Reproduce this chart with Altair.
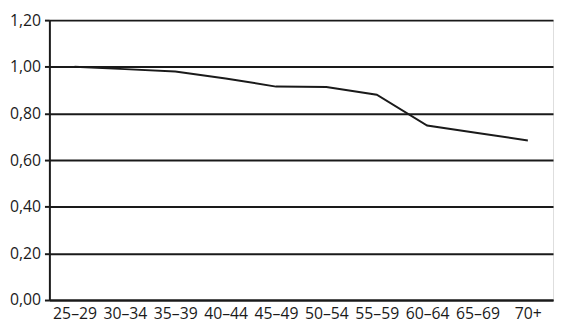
import altair as alt
import pandas as pd

ages = ["25–29", "30–34", "35–39", "40–44", "45–49", "50–54", "55–59", "60–64", "65–69", "70+"]
values = [1.00, 0.99, 0.98, 0.95, 0.915, 0.913, 0.88, 0.748, 0.716, 0.684]

df = pd.DataFrame({"age": ages, "value": values})

FONT = "Open Sans"

chart = alt.Chart(df).mark_line(color="#1a1a1a", strokeWidth=2).encode(
    x=alt.X("age:N", sort=ages, title=None,
            scale=alt.Scale(type="point", padding=0.5),
            axis=alt.Axis(labelAngle=0, ticks=False, grid=False, domainColor="#1a1a1a",
                          domainWidth=2, labelFont=FONT, labelFontSize=16,
                          labelColor="#1a1a1a", labelPadding=6)),
    y=alt.Y("value:Q", title=None,
            scale=alt.Scale(domain=[0, 1.2], nice=False, zero=True),
            axis=alt.Axis(values=[0, 0.2, 0.4, 0.6, 0.8, 1.0, 1.2],
                          labelExpr="replace(format(datum.value, '.2f'), '.', ',')",
                          grid=True, gridColor="#1a1a1a", gridWidth=2, gridOpacity=1,
                          domainColor="#1a1a1a", domainWidth=2,
                          tickColor="#1a1a1a", tickWidth=2, tickSize=5,
                          labelFont=FONT, labelFontSize=16, labelColor="#1a1a1a",
                          labelPadding=4)),
).properties(
    width=511, height=284,
    autosize=alt.AutoSizeParams(type="none"),
    padding={"left": 42, "top": 10, "right": 2, "bottom": 21},
).configure_view(stroke=None).configure(background="white")

chart.save("out.html", embed_options={"renderer": "svg", "actions": False})
